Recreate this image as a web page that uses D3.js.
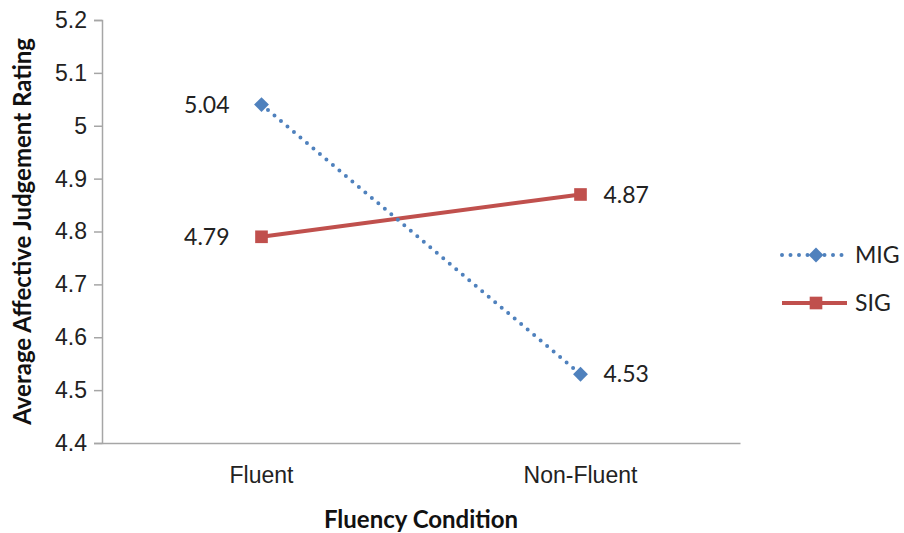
<!DOCTYPE html>
<html>
<head>
<meta charset="utf-8">
<script src="https://cdn.jsdelivr.net/npm/d3@7"></script>
<style>
  html, body { margin: 0; padding: 0; background: #fff; }
  svg { display: block; font-family: Lato, "Open Sans", sans-serif; }
</style>
</head>
<body>
<svg id="chart" width="904" height="533"></svg>
<script>
// Fluency condition categories and mean ratings per group
const categories = ["Fluent", "Non-Fluent"];
const migValues = [5.04, 4.53];
const sigValues = [4.79, 4.87];
const seriesNames = ["MIG", "SIG"];
const yTicks = [4.4, 4.5, 4.6, 4.7, 4.8, 4.9, 5, 5.1, 5.2];

const svg = d3.select("#chart");
const margin = { left: 102, right: 164, top: 20, bottom: 90 };
const width = 904, height = 533;

const x = d3.scaleBand().domain(categories).range([margin.left, width - margin.right]);
const y = d3.scaleLinear().domain([4.4, 5.2]).range([height - margin.bottom, margin.top]);

const axisColor = "#a6a6a6";
const labelSize = "23px";

// Y axis
const yAxis = svg.append("g")
  .attr("transform", `translate(${margin.left},0)`)
  .call(d3.axisLeft(y).tickValues(yTicks).tickSize(8).tickPadding(7).tickFormat(d3.format("")));
yAxis.select(".domain").attr("stroke", axisColor).attr("stroke-width", 1.5);
yAxis.selectAll(".tick line").attr("stroke", axisColor).attr("stroke-width", 1.5);
yAxis.selectAll(".tick text").attr("fill", "#222").style("font-size", labelSize);

// X axis
const xAxis = svg.append("g")
  .attr("transform", `translate(0,${height - margin.bottom})`)
  .call(d3.axisBottom(x).tickSize(0).tickPadding(24));
xAxis.select(".domain").attr("stroke", axisColor).attr("stroke-width", 1.5);
xAxis.selectAll(".tick text").attr("fill", "#222").style("font-size", labelSize);

// Axis titles
svg.append("text")
  .attr("x", (margin.left + width - margin.right) / 2)
  .attr("y", 528)
  .attr("text-anchor", "middle")
  .style("font-size", "24px").style("font-weight", "bold").attr("fill", "#111")
  .text("Fluency Condition");

svg.append("text")
  .attr("transform", `translate(31,${(margin.top + height - margin.bottom) / 2}) rotate(-90)`)
  .attr("text-anchor", "middle")
  .style("font-size", "24px").style("font-weight", "bold").attr("fill", "#111")
  .text("Average Affective Judgement Rating");

const cx = d => x(d) + x.bandwidth() / 2;
const line = d3.line().x(d => cx(d.cat)).y(d => y(d.v));

const mig = categories.map((c, i) => ({ cat: c, v: migValues[i] }));
const sig = categories.map((c, i) => ({ cat: c, v: sigValues[i] }));

const blue = "#4f81bd", red = "#c0504d";
const diamond = d3.symbol().type(d3.symbolDiamond2).size(140);
const square = d3.symbol().type(d3.symbolSquare).size(160);

// SIG series: solid line with square markers
svg.append("path").datum(sig).attr("d", line)
  .attr("fill", "none").attr("stroke", red).attr("stroke-width", 4);
svg.selectAll(".sig-pt").data(sig).enter().append("path")
  .attr("d", square).attr("fill", red)
  .attr("transform", d => `translate(${cx(d.cat)},${y(d.v)})`);

// MIG series: round-dotted line with diamond markers
svg.append("path").datum(mig).attr("d", line)
  .attr("fill", "none").attr("stroke", blue).attr("stroke-width", 4)
  .attr("stroke-linecap", "round").attr("stroke-dasharray", "0 8.5");
svg.selectAll(".mig-pt").data(mig).enter().append("path")
  .attr("d", diamond).attr("fill", blue)
  .attr("transform", d => `translate(${cx(d.cat)},${y(d.v)})`);

// Value labels: left of the Fluent points, right of the Non-Fluent points
const fmt = d3.format(".2f");
[...mig, ...sig].forEach(d => {
  const left = d.cat === categories[0];
  svg.append("text")
    .attr("x", cx(d.cat) + (left ? -32 : 23))
    .attr("y", y(d.v))
    .attr("dy", "0.35em")
    .attr("text-anchor", left ? "end" : "start")
    .style("font-size", labelSize).attr("fill", "#222")
    .text(fmt(d.v));
});

// Legend
const legend = svg.append("g").attr("transform", "translate(780,0)");
const legendRows = [
  { name: seriesNames[0], y: 255, color: blue, dotted: true, sym: diamond },
  { name: seriesNames[1], y: 303, color: red, dotted: false, sym: square }
];
legendRows.forEach(r => {
  legend.append("line")
    .attr("x1", 2).attr("x2", 67).attr("y1", r.y).attr("y2", r.y)
    .attr("stroke", r.color).attr("stroke-width", 4)
    .attr("stroke-linecap", r.dotted ? "round" : "butt")
    .attr("stroke-dasharray", r.dotted ? "0 8.5" : null);
  legend.append("path").attr("d", r.sym).attr("fill", r.color)
    .attr("transform", `translate(36,${r.y})`);
  legend.append("text")
    .attr("x", 75).attr("y", r.y).attr("dy", "0.35em")
    .style("font-size", labelSize).attr("fill", "#222")
    .text(r.name);
});
</script>
</body>
</html>
